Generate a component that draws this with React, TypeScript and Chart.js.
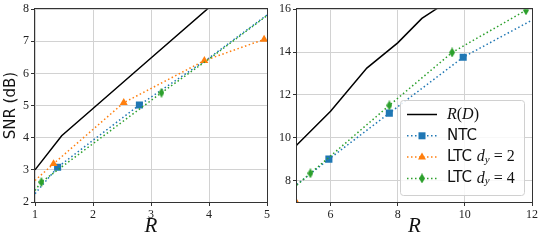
import React, { useEffect, useRef } from 'react';
import { Chart, registerables } from 'chart.js';

Chart.register(...registerables);

// ---- data (rate R vs SNR in dB) ----
const RD_RATE = [1, 1.46, 2, 3, 4, 5, 6, 7.08, 8, 8.72, 9.14, 9.6];
const RD_SNR = [3.0, 4.06, 4.91, 6.48, 8.05, 9.67, 11.24, 13.25, 14.43, 15.57, 16.0, 16.5];

const NTC_RATE = [1, 1.39, 2.8, 4, 5, 5.95, 7.75, 9.95, 12];
const NTC_SNR = [2.26, 3.08, 5.02, 6.48, 7.82, 9.0, 11.15, 13.76, 15.49];
const NTC_MARK = [0, 1, 1, 0, 0, 1, 1, 1, 0];

const LTC2_RATE = [1, 1.32, 2.53, 3.92, 4.95, 5.0];
const LTC2_SNR = [2.67, 3.19, 5.09, 6.4, 7.06, 7.07];
const LTC2_MARK = [0, 1, 1, 1, 1, 0];

const LTC4_RATE = [1, 1.11, 3.18, 4, 5, 5.4, 7.75, 9.62, 11.82, 12];
const LTC4_SNR = [2.36, 2.62, 5.4, 6.45, 7.8, 8.34, 11.51, 13.98, 15.95, 16.15];
const LTC4_MARK = [0, 1, 1, 0, 0, 1, 1, 1, 1, 0];

const LEFT_X_RANGE = [1, 5];
const LEFT_Y_RANGE = [2, 8];
const RIGHT_X_RANGE = [5, 12];
const RIGHT_Y_RANGE = [7, 16];
const LEFT_X_TICKS = [1, 2, 3, 4, 5];
const LEFT_Y_TICKS = [2, 3, 4, 5, 6, 7, 8];
const RIGHT_X_TICKS = [6, 8, 10, 12];
const RIGHT_Y_TICKS = [8, 10, 12, 14, 16];

const BLUE = '#1f77b4';
const ORANGE = '#ff7f0e';
const GREEN = '#2ca02c';
const DOT = [1.5, 2.5];
const SERIF = '"Liberation Serif", "DejaVu Serif", serif';
const SANS = '"DejaVu Sans", sans-serif';

const pts = (xs: number[], ys: number[]) => xs.map((x, i) => ({ x, y: ys[i] }));

function makeDiamond(color: string, w: number, h: number) {
  const c = document.createElement('canvas');
  c.width = w;
  c.height = h;
  const ctx = c.getContext('2d')!;
  ctx.fillStyle = color;
  ctx.beginPath();
  ctx.moveTo(w / 2, 0);
  ctx.lineTo(w, h / 2);
  ctx.lineTo(w / 2, h);
  ctx.lineTo(0, h / 2);
  ctx.closePath();
  ctx.fill();
  return c;
}

function buildDatasets(diamond: HTMLCanvasElement) {
  return [
    {
      label: 'R(D)',
      data: pts(RD_RATE, RD_SNR),
      borderColor: '#000',
      borderWidth: 1.5,
      pointRadius: 0,
      order: 4,
    },
    {
      label: 'NTC',
      data: pts(NTC_RATE, NTC_SNR),
      borderColor: BLUE,
      borderWidth: 1.5,
      borderDash: DOT,
      pointStyle: 'rect',
      pointRadius: NTC_MARK.map((m) => (m ? 5 : 0)),
      pointBackgroundColor: BLUE,
      pointBorderWidth: 0,
      order: 3,
    },
    {
      label: 'LTC dy=2',
      data: pts(LTC2_RATE, LTC2_SNR),
      borderColor: ORANGE,
      borderWidth: 1.5,
      borderDash: DOT,
      pointStyle: 'triangle',
      pointRadius: LTC2_MARK.map((m) => (m ? 4.6 : 0)),
      pointBackgroundColor: ORANGE,
      pointBorderWidth: 0,
      order: 2,
    },
    {
      label: 'LTC dy=4',
      data: pts(LTC4_RATE, LTC4_SNR),
      borderColor: GREEN,
      borderWidth: 1.5,
      borderDash: DOT,
      pointStyle: diamond,
      pointRadius: LTC4_MARK.map((m) => (m ? 4 : 0)),
      pointBackgroundColor: GREEN,
      pointBorderWidth: 0,
      order: 1,
    },
  ];
}

function scaleCfg(
  range: number[],
  ticks: number[],
  axis: 'x' | 'y',
  fit: number,
  title: any
) {
  return {
    type: 'linear',
    min: range[0],
    max: range[1],
    afterBuildTicks: (s: any) => {
      s.ticks = ticks.map((v) => ({ value: v }));
    },
    afterFit: (s: any) => {
      if (axis === 'x') s.height = fit;
      else s.width = fit;
    },
    grid: {
      color: '#d2d2d2',
      lineWidth: 1,
      tickLength: 4,
      tickColor: '#333',
      drawTicks: true,
    },
    border: { display: false },
    ticks: {
      font: { family: SERIF, size: 12 },
      color: '#222',
      padding: 2,
      maxRotation: 0,
      autoSkip: false,
    },
    title,
  };
}

const framePlugin = {
  id: 'frame',
  afterDatasetsDraw(chart: any) {
    const { ctx, chartArea: a } = chart;
    ctx.save();
    ctx.strokeStyle = '#333';
    ctx.lineWidth = 1;
    const l = Math.round(a.left) - 0.5;
    const t = Math.round(a.top) - 0.5;
    const r = Math.round(a.right) + 0.5;
    const b = Math.round(a.bottom) + 0.5;
    ctx.strokeRect(l, t, r - l, b - t);
    ctx.restore();
  },
};

type Run = { text: string; font: string; dy?: number };

function drawRuns(ctx: CanvasRenderingContext2D, x: number, y: number, runs: Run[]) {
  let cx = x;
  for (const run of runs) {
    ctx.font = run.font;
    ctx.fillText(run.text, cx, y + (run.dy || 0));
    cx += ctx.measureText(run.text).width;
  }
}

function legendPlugin(diamond: HTMLCanvasElement) {
  return {
    id: 'customLegend',
    afterDraw(chart: any) {
      const ctx: CanvasRenderingContext2D = chart.ctx;
      const bx = 128.5;
      const by = 100.5;
      const bw = 124;
      const bh = 95;
      ctx.save();
      ctx.beginPath();
      (ctx as any).roundRect(bx, by, bw, bh, 3);
      ctx.fillStyle = 'rgba(255,255,255,0.85)';
      ctx.fill();
      ctx.strokeStyle = '#d0d0d0';
      ctx.lineWidth = 1;
      ctx.stroke();

      const lx0 = 135;
      const lx1 = 165;
      const mx = 150;
      const tx = 175;
      const rows = [114.5, 135.8, 157.1, 178.4];
      const colors = ['#000', BLUE, ORANGE, GREEN];
      rows.forEach((y, i) => {
        ctx.beginPath();
        ctx.strokeStyle = colors[i];
        ctx.lineWidth = 1.5;
        ctx.setLineDash(i === 0 ? [] : DOT);
        ctx.moveTo(lx0, y);
        ctx.lineTo(lx1, y);
        ctx.stroke();
        ctx.setLineDash([]);
        ctx.fillStyle = colors[i];
        if (i === 1) {
          ctx.fillRect(mx - 3.5, y - 3.5, 7, 7);
        } else if (i === 2) {
          const r = 4.6;
          ctx.beginPath();
          ctx.moveTo(mx, y - r);
          ctx.lineTo(mx + r * 0.866, y + r / 2);
          ctx.lineTo(mx - r * 0.866, y + r / 2);
          ctx.closePath();
          ctx.fill();
        } else if (i === 3) {
          ctx.drawImage(diamond, mx - diamond.width / 2, y - diamond.height / 2);
        }
      });

      ctx.fillStyle = '#111';
      ctx.textBaseline = 'middle';
      ctx.textAlign = 'left';
      const it = `italic 16px ${SERIF}`;
      const up = `16px ${SERIF}`;
      drawRuns(ctx, tx, rows[0], [
        { text: 'R', font: it },
        { text: '(', font: up },
        { text: 'D', font: it },
        { text: ')', font: up },
      ]);
      drawRuns(ctx, tx, rows[1], [{ text: 'NTC', font: `15px ${SANS}` }]);
      [2, 4].forEach((d, k) => {
        drawRuns(ctx, tx, rows[2 + k], [
          { text: 'LTC ', font: `15px ${SANS}` },
          { text: 'd', font: it },
          { text: 'y', font: `italic 11px ${SERIF}`, dy: 3 },
          { text: ' = ', font: `16px ${SERIF}` },
          { text: String(d), font: up },
        ]);
      });
      ctx.restore();
    },
  };
}

export default function App() {
  const leftRef = useRef<HTMLCanvasElement>(null);
  const rightRef = useRef<HTMLCanvasElement>(null);

  useEffect(() => {
    const diamond = makeDiamond(GREEN, 6, 10);
    const xTitle = {
      display: true,
      text: 'R',
      font: { family: SERIF, style: 'italic', size: 21 },
      color: '#111',
      padding: { top: 0, bottom: 1 },
    };
    const left = new Chart(leftRef.current!, {
      type: 'line',
      data: { datasets: buildDatasets(diamond) as any },
      options: {
        animation: false,
        responsive: false,
        maintainAspectRatio: false,
        layout: { padding: { top: 7, right: 3, left: 0, bottom: 0 } },
        plugins: { legend: { display: false }, tooltip: { enabled: false } },
        elements: { line: { tension: 0 } },
        scales: {
          x: scaleCfg(LEFT_X_RANGE, LEFT_X_TICKS, 'x', 38, xTitle),
          y: scaleCfg(LEFT_Y_RANGE, LEFT_Y_TICKS, 'y', 35, {
            display: true,
            text: 'SNR (dB)',
            font: { family: SANS, size: 15 },
            color: '#111',
            padding: { top: 2, bottom: 0 },
          }),
        } as any,
      },
      plugins: [framePlugin],
    });
    const right = new Chart(rightRef.current!, {
      type: 'line',
      data: { datasets: buildDatasets(diamond) as any },
      options: {
        animation: false,
        responsive: false,
        maintainAspectRatio: false,
        layout: { padding: { top: 7, right: 8, left: 0, bottom: 0 } },
        plugins: { legend: { display: false }, tooltip: { enabled: false } },
        elements: { line: { tension: 0 } },
        scales: {
          x: scaleCfg(RIGHT_X_RANGE, RIGHT_X_TICKS, 'x', 38, xTitle),
          y: scaleCfg(RIGHT_Y_RANGE, RIGHT_Y_TICKS, 'y', 25, { display: false }),
        } as any,
      },
      plugins: [framePlugin, legendPlugin(diamond)],
    });
    return () => {
      left.destroy();
      right.destroy();
    };
  }, []);

  return (
    <div style={{ position: 'absolute', left: 0, top: 0, width: 540, height: 240, background: '#fff' }}>
      <canvas ref={leftRef} width={272} height={240} style={{ position: 'absolute', left: 0, top: 0 }} />
      <canvas ref={rightRef} width={268} height={240} style={{ position: 'absolute', left: 272, top: 0 }} />
    </div>
  );
}
